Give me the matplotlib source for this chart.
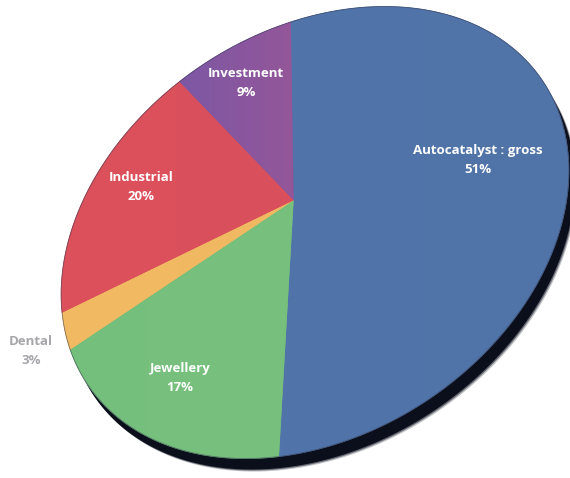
import numpy as np
import matplotlib
matplotlib.use("Agg")
import matplotlib.pyplot as plt
from matplotlib.patches import Polygon
from matplotlib.colors import LinearSegmentedColormap

# Platinum demand breakdown
segments = ["Autocatalyst : gross", "Jewellery", "Dental", "Industrial", "Investment"]
shares = [51, 17, 3, 20, 9]
colors = ["#5174AA", "#75BF7C", "#F2BA63", "#DC515B", "#7D58A4"]
# right-hand tint for a soft horizontal sheen on each wedge
tints = ["#5073A8", "#78C07E", "#F0B860", "#DA4F5D", "#945699"]
label_colors = ["white", "white", "#A7A7AB", "white", "white"]
# label anchor points (pixels)
label_xy = [(478, 160), (180, 378), (31, 351), (141, 187), (246, 83)]

W, H_PX = 570, 478
fig = plt.figure(figsize=(W / 100, H_PX / 100), dpi=100)
ax = fig.add_axes([0, 0, 1, 1])
ax.set_xlim(0, W)
ax.set_ylim(H_PX, 0)
ax.axis("off")


def unit(deg):
    t = np.radians(deg)
    return (np.cos(t), np.sin(t))


def solve_homography(src, dst):
    A, b = [], []
    for (x, y), (u, v) in zip(src, dst):
        A.append([x, y, 1, 0, 0, 0, -u * x, -u * y]); b.append(u)
        A.append([0, 0, 0, x, y, 1, -v * x, -v * y]); b.append(v)
    h = np.linalg.lstsq(np.array(A, float), np.array(b, float), rcond=None)[0]
    return np.append(h, 1.0).reshape(3, 3)


# perspective view of the unit disc, fixed by the centre and rim points
HM = solve_homography(
    [(0, 0), unit(90), unit(122.4), unit(194.4), unit(266.4)],
    [(291, 199), (293, 23), (178, 81), (63, 313), (280, 457)])


def project(pts):
    pts = np.asarray(pts, float)
    p = np.c_[pts, np.ones(len(pts))] @ HM.T
    return p[:, :2] / p[:, 2:3]


def arc(a0, a1, n=200):
    t = np.radians(np.linspace(a0, a1, n))
    return np.c_[np.cos(t), np.sin(t)]


# drop shadow under the disc
rim = project(arc(0, 360, 720))
for off, a in [((8, 13), 0.25), ((7, 12), 0.5), ((6, 11), 1.0)]:
    ax.add_patch(Polygon(rim + np.array(off), closed=True, facecolor="#0B0F1C",
                         edgecolor="none", alpha=a, zorder=1))

# wedges, clockwise from twelve o'clock
start = 90.0
for name, val, col, tint, lc, (lx, ly) in zip(segments, shares, colors, tints,
                                              label_colors, label_xy):
    end = start - 360.0 * val / 100.0
    poly = project(np.vstack([[0, 0], arc(start, end)]))
    patch = Polygon(poly, closed=True, facecolor=col, edgecolor=col,
                    linewidth=0.6, zorder=2)
    ax.add_patch(patch)
    x0, x1 = poly[:, 0].min(), poly[:, 0].max()
    y0, y1 = poly[:, 1].min(), poly[:, 1].max()
    cmap = LinearSegmentedColormap.from_list("sheen", [col, tint])
    im = ax.imshow(np.linspace(0, 1, 64)[None, :], cmap=cmap, aspect="auto",
                   extent=(x0, x1, y1, y0), interpolation="bilinear", zorder=2.1)
    im.set_clip_path(patch)
    ax.text(lx, ly, f"{name}\n{val}%", color=lc, ha="center", va="center",
            fontsize=9.5, fontweight="bold", family=["Open Sans", "DejaVu Sans"],
            linespacing=1.6, zorder=5)
    start = end

# thin outline on the rim
ax.plot(rim[:, 0], rim[:, 1], color="#3A3F55", lw=0.6, alpha=0.6, zorder=3)

ax.set_xlim(0, W)
ax.set_ylim(H_PX, 0)
fig.savefig("out.png", dpi=100, facecolor="white")
